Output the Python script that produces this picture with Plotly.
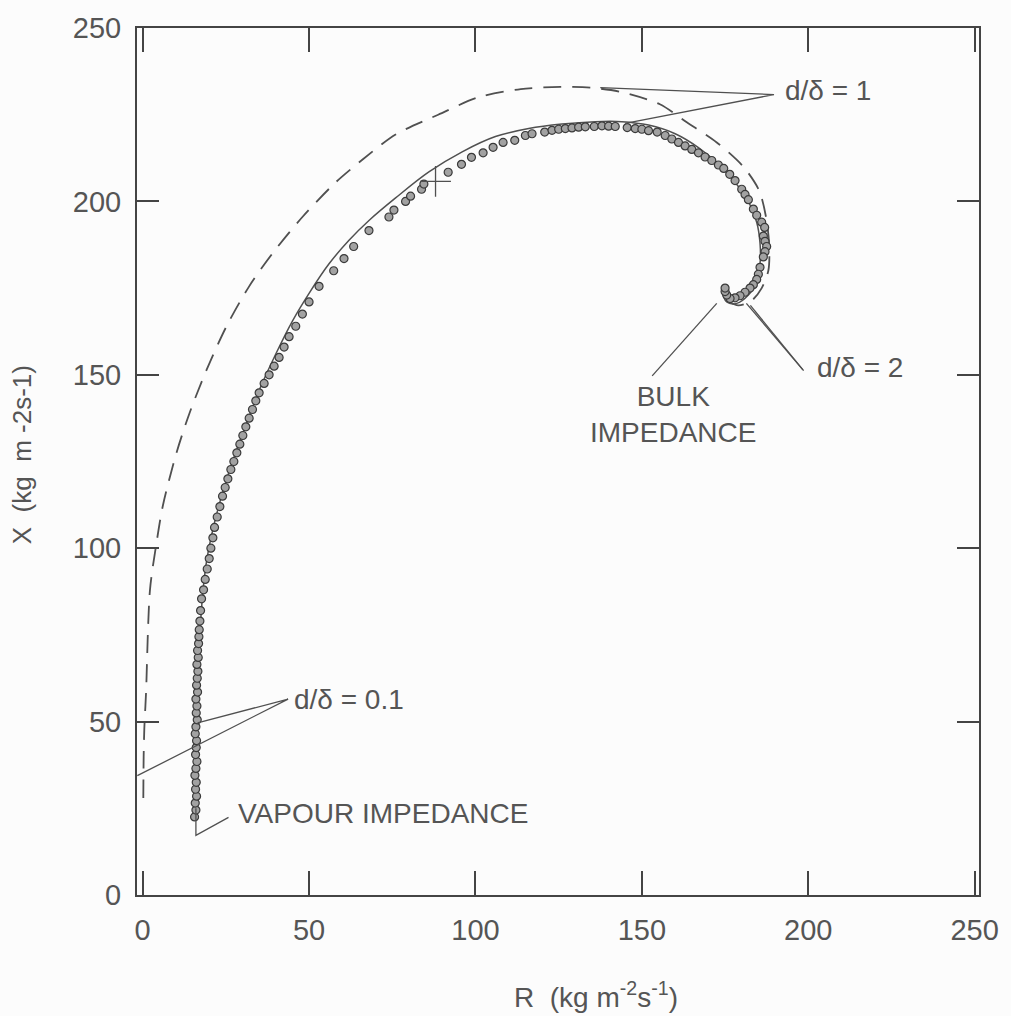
import plotly.graph_objects as go

# ---------------- data ----------------
tick_vals = [0, 50, 100, 150, 200, 250]
tick_text = ["0", "50", "100", "150", "200", "250"]

# dashed model curve
dash_R = [0.2, 0.3, 0.5, 1.0, 2.2, 4.2, 6.1, 10.2, 14.1, 19.2, 25.2, 32.0, 39.0,
          48.0, 58.0, 66.0, 76.0, 88.8, 100.8, 113.6, 125.6, 134.6, 143.5, 155.4, 163.5,
          172.5, 180.5, 185.3, 187.5, 188.3, 188.0, 186.0, 183.0, 179.0, 175.5]
dash_X = [28.0, 40.0, 48.0, 58.0, 88.0, 101.8, 112.4, 127.6, 139.0, 151.4, 164.0, 175.5, 185.0,
          195.5, 205.5, 212.0, 219.3, 225.0, 230.0, 232.4, 233.0, 232.8, 231.6, 228.0, 222.8,
          217.0, 210.0, 203.0, 194.4, 186.4, 180.0, 175.0, 171.4, 170.0, 171.5]

# solid model curve
solid_R = [16.0, 16.3, 16.8, 17.5, 19.0, 21.0, 24.0, 27.0, 31.0, 35.0, 40.0, 45.0, 50.0,
           56.0, 62.0, 68.0, 76.0, 86.0, 96.0, 106.0, 116.0, 126.0, 136.0, 144.0, 152.0,
           160.0, 167.0, 173.0, 178.0, 182.0, 184.5, 185.5, 185.5, 184.5, 182.0, 178.5,
           175.5, 174.5, 175.5]
solid_X = [22.0, 40.0, 60.0, 80.0, 95.0, 105.0, 116.0, 125.0, 135.5, 145.5, 156.0, 165.5, 173.5,
           182.0, 188.8, 194.5, 201.0, 208.5, 214.3, 218.7, 221.0, 222.3, 223.0, 223.0,
           222.0, 219.5, 215.5, 210.7, 205.5, 200.0, 194.0, 188.0, 182.0, 177.0, 173.0,
           170.6, 171.0, 173.5, 175.0]

# measured points
meas_R = [15.6, 16.0, 15.8, 16.2, 15.9, 16.1, 15.7, 16.0, 16.3, 15.9, 16.1, 16.2, 15.8, 16.0,
          16.4, 16.1, 16.3, 16.0, 16.5, 16.2, 16.4, 16.6, 16.3, 16.7, 16.5, 16.8, 16.9, 17.0,
          17.2, 17.4,
          17.7, 18.3, 18.8, 19.4, 20.0, 20.5, 21.1, 21.6, 22.4, 23.2, 24.0, 24.8, 25.6, 26.5,
          27.4, 28.3, 29.2, 30.1, 31.0, 32.0, 33.0, 34.0, 35.0, 36.5, 38.0, 39.5, 41.0, 42.5,
          44.0, 46.0, 48.0, 50.0, 53.0,
          57.4, 60.5, 63.4, 68.0, 74.0, 75.5, 79.0, 80.5, 83.8, 84.5, 91.8, 95.8, 98.8, 102.3,
          105.3, 108.3, 111.8, 115.0, 117.0, 120.8, 123.0, 125.0, 127.0, 129.0, 131.0, 133.0,
          135.7, 138.0, 140.0, 142.0, 145.6, 148.0, 150.0, 152.0, 154.6, 157.0, 159.0, 161.0,
          163.0, 165.0, 167.0, 169.0, 171.0, 173.0, 174.6, 176.4, 178.0, 180.0, 181.0, 182.0,
          183.5, 184.5, 186.0, 186.9,
          186.5, 187.0, 187.5, 187.0, 186.5, 185.5, 185.0, 184.5, 183.5, 182.5, 181.0, 179.5,
          178.0, 176.5, 175.5, 175.0, 175.0]
meas_X = [22.5, 24.5, 26.5, 28.5, 30.5, 32.5, 34.5, 36.5, 38.5, 40.5, 42.5, 44.5, 46.5, 48.5,
          50.5, 52.5, 54.5, 56.5, 58.5, 60.5, 62.5, 64.5, 66.5, 68.5, 70.5, 72.5, 74.5, 76.5,
          79.0, 82.0,
          85.4, 88.0, 91.0, 94.0, 97.0, 100.0, 103.0, 106.0, 109.0, 112.0, 115.0, 117.5, 120.0,
          122.7, 125.0, 127.5, 130.0, 132.5, 135.0, 137.5, 140.0, 142.5, 144.8, 147.5, 150.0,
          152.5, 155.0, 158.0, 161.0, 164.0, 167.5, 171.0, 175.5,
          180.0, 183.5, 187.0, 191.6, 195.5, 197.5, 200.0, 201.5, 203.5, 205.0, 208.4, 210.7,
          212.7, 214.0, 215.6, 217.0, 217.6, 219.0, 219.5, 220.0, 220.5, 220.8, 221.0, 221.2,
          221.4, 221.5, 221.6, 221.8, 221.7, 221.6, 221.3, 221.0, 220.8, 220.4, 220.0, 219.0,
          218.0, 217.0, 216.0, 215.0, 214.0, 212.8, 211.8, 210.5, 209.5, 207.8, 206.0, 203.5,
          202.0, 200.5, 197.8, 196.0, 194.0, 192.5,
          190.0, 188.5, 187.0, 185.5, 184.0, 181.0, 179.0, 177.5, 176.0, 175.0, 173.8, 172.8,
          172.2, 172.0, 173.0, 174.0, 175.0]

cross_R = [88.0]
cross_X = [205.8]

# ---------------- figure ----------------
TXT = "#555555"
LN = "#444444"
FONT = "Liberation Sans"

fig = go.Figure()

fig.add_trace(go.Scatter(x=dash_R, y=dash_X, mode="lines", line_shape="spline",
                         line=dict(color="#505050", width=1.8, dash="18px,11px", smoothing=0.8),
                         hoverinfo="skip", showlegend=False))
fig.add_trace(go.Scatter(x=solid_R, y=solid_X, mode="lines", line_shape="spline",
                         line=dict(color="#505050", width=1.5, smoothing=1.0),
                         hoverinfo="skip", showlegend=False))
fig.add_trace(go.Scatter(x=meas_R, y=meas_X, mode="markers",
                         marker=dict(symbol="circle", size=8, color="#a2a2a2",
                                     line=dict(color="#3a3a3a", width=1.2)),
                         hoverinfo="skip", showlegend=False))
fig.add_trace(go.Scatter(x=cross_R, y=cross_X, mode="markers",
                         marker=dict(symbol="cross-thin-open", size=22, color="#505050",
                                     line=dict(color="#505050", width=1.3)),
                         hoverinfo="skip", showlegend=False))

# leader lines
def leader(xs, ys):
    fig.add_trace(go.Scatter(x=xs, y=ys, mode="lines",
                             line=dict(color="#505050", width=1.3),
                             hoverinfo="skip", showlegend=False))

leader([137.5, 189.7, 145.0], [232.8, 230.8, 222.5])           # d/δ = 1
leader([181.4, 198.4], [170.6, 151.4])                          # d/δ = 2
leader([182.6, 198.6], [170.0, 151.2])
leader([153.1, 172.5], [149.7, 170.6])                          # bulk
leader([16.5, 43.7, -1.6], [49.6, 56.5, 34.4])                  # d/δ = 0.1
leader([16.0, 16.0, 25.8], [25.0, 17.2, 22.4])                  # vapour

def label(x, y, text, anchor="left"):
    fig.add_annotation(x=x, y=y, xref="x", yref="y", text=text, showarrow=False,
                       xanchor=anchor, yanchor="middle",
                       font=dict(family=FONT, size=28, color=TXT))

NB = "\u00a0"
label(192.5, 232.0, f"d/δ{NB}={NB}1")
label(202.0, 152.0, f"d/δ{NB}={NB}2")
label(159.3, 138.5, "BULK<br>IMPEDANCE", anchor="center")
label(44.8, 56.5, f"d/δ{NB}={NB}0.1")
label(28.0, 23.5, f"VAPOUR{NB}IMPEDANCE")

# axis titles
fig.add_annotation(x=0.545, y=-0.115, xref="paper", yref="paper",
                   text=f"R{NB}{NB}(kg{NB}m<sup>-2</sup>s<sup>-1</sup>)",
                   showarrow=False, xanchor="center", yanchor="middle",
                   font=dict(family=FONT, size=28, color=TXT))
fig.add_annotation(x=-0.137, y=0.508, xref="paper", yref="paper",
                   text=f"X{NB}{NB}(kg{NB}{NB}m{NB}-2s-1)", textangle=-90,
                   showarrow=False, xanchor="center", yanchor="middle",
                   font=dict(family=FONT, size=26, color=TXT))

axis_common = dict(showgrid=False, zeroline=False, showline=True, linecolor=LN, linewidth=2,
                   mirror="ticks", ticks="inside", tickcolor=LN, tickwidth=1.5,
                   tickvals=tick_vals, ticktext=tick_text,
                   tickfont=dict(family=FONT, size=29, color=TXT))

fig.update_xaxes(range=[-1.7, 251.3], ticklen=24, ticklabelstandoff=8, **axis_common)
fig.update_yaxes(range=[0, 250], ticklen=22, ticklabelstandoff=8, **axis_common)

fig.update_layout(width=1011, height=1016,
                  margin=dict(l=137, r=31, t=23, b=121),
                  paper_bgcolor="#fcfcfc", plot_bgcolor="#fcfcfc",
                  showlegend=False)

fig.write_html("out.html")
